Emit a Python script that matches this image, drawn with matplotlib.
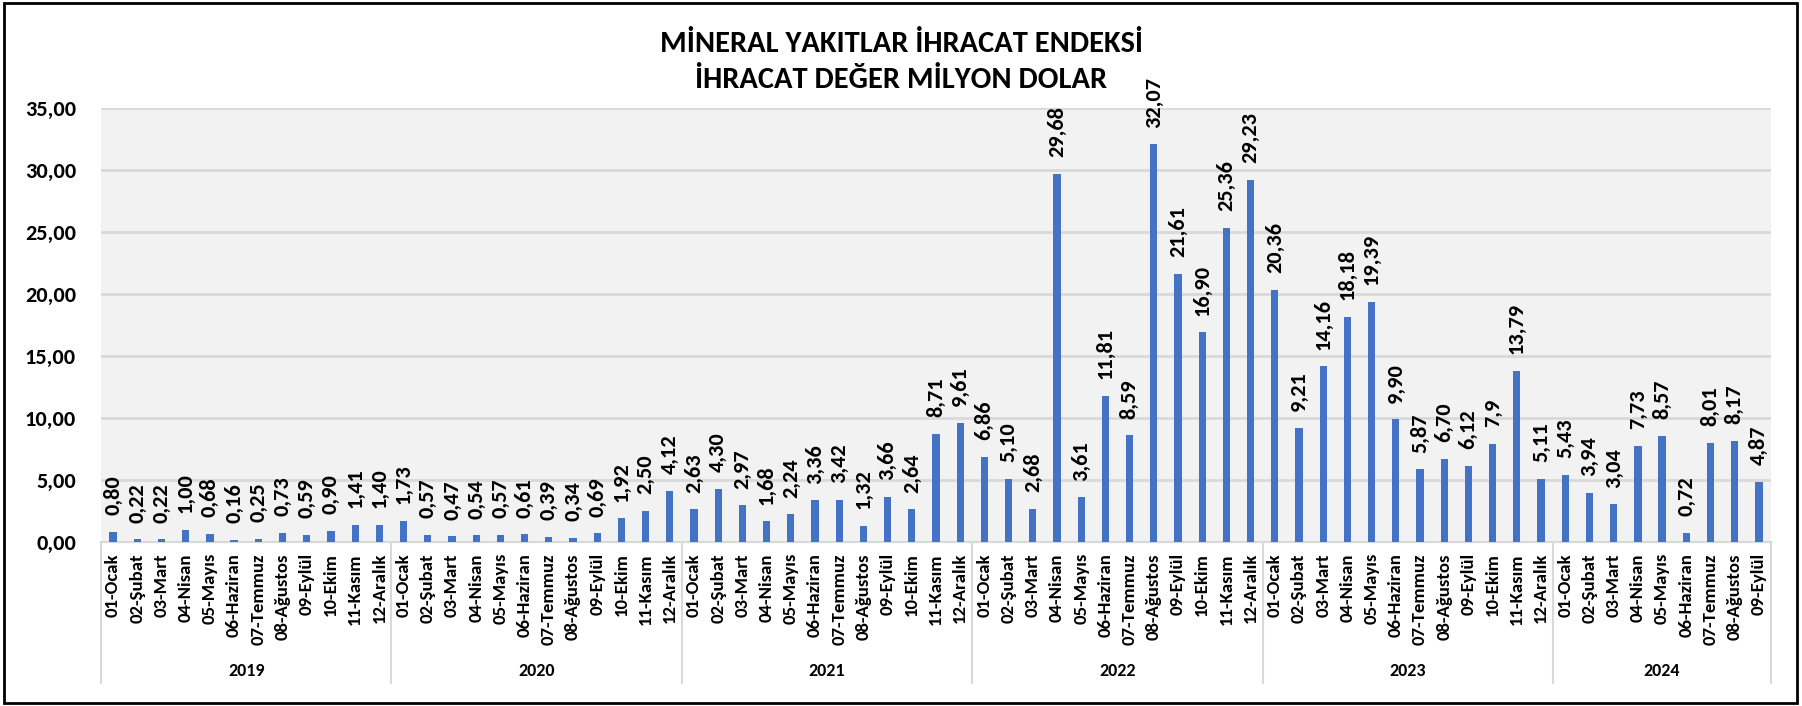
"""
Mineral yakitlar ihracat endeksi - aylik ihracat degeri (milyon dolar), 2019-2024.
"""
import matplotlib.pyplot as plt
from matplotlib.patches import Rectangle
from matplotlib.transforms import blended_transform_factory

plt.rcParams['font.family'] = ['Carlito', 'DejaVu Sans']

months = ["01-Ocak", "02-Şubat", "03-Mart", "04-Nisan", "05-Mayıs", "06-Haziran",
          "07-Temmuz", "08-Ağustos", "09-Eylül", "10-Ekim", "11-Kasım", "12-Aralık"]
years = ["2019", "2020", "2021", "2022", "2023", "2024"]

# values as printed on the data labels
v2019 = ["0,80", "0,22", "0,22", "1,00", "0,68", "0,16", "0,25", "0,73", "0,59", "0,90", "1,41", "1,40"]
v2020 = ["1,73", "0,57", "0,47", "0,54", "0,57", "0,61", "0,39", "0,34", "0,69", "1,92", "2,50", "4,12"]
v2021 = ["2,63", "4,30", "2,97", "1,68", "2,24", "3,36", "3,42", "1,32", "3,66", "2,64", "8,71", "9,61"]
v2022 = ["6,86", "5,10", "2,68", "29,68", "3,61", "11,81", "8,59", "32,07", "21,61", "16,90", "25,36", "29,23"]
v2023 = ["20,36", "9,21", "14,16", "18,18", "19,39", "9,90", "5,87", "6,70", "6,12", "7,9", "13,79", "5,11"]
v2024 = ["5,43", "3,94", "3,04", "7,73", "8,57", "0,72", "8,01", "8,17", "4,87"]

series = [v2019, v2020, v2021, v2022, v2023, v2024]

labels, values, cats = [], [], []
for s in series:
    for i, txt in enumerate(s):
        labels.append(txt)
        values.append(float(txt.replace(",", ".")))
        cats.append(months[i])

x = list(range(len(values)))

fig = plt.figure(figsize=(18.02, 7.06), dpi=100)
ax = fig.add_axes([101 / 1802, 1 - 542 / 706, 1670 / 1802, 434 / 706])
ax.set_facecolor("#F2F2F2")

ax.bar(x, values, width=0.3, color="#4472C4", zorder=3)

for xi, v, t in zip(x, values, labels):
    ax.annotate(t, (xi, v), xytext=(0, 12), textcoords="offset points",
                rotation=90, ha="center", va="bottom", fontsize=16,
                fontweight="bold", color="black")

ax.set_xlim(-0.5, len(values) - 0.5)
ax.set_ylim(0, 35)
ax.set_yticks(range(0, 36, 5))
ax.set_yticklabels([f"{t},00" for t in range(0, 36, 5)], fontsize=16, fontweight="bold")
ax.yaxis.grid(True, color="#D9D9D9", linewidth=2, zorder=0)
ax.tick_params(axis="y", length=0, pad=18)

ax.set_xticks(x)
ax.set_xticklabels(cats, rotation=90, fontsize=13.5, fontweight="bold")
ax.tick_params(axis="x", length=0, pad=8)

for side in ["left", "right", "top"]:
    ax.spines[side].set_visible(False)
ax.spines["bottom"].set_color("#D9D9D9")
ax.spines["bottom"].set_linewidth(1.5)

# year groups under the month labels
trans = blended_transform_factory(ax.transData, ax.transAxes)
bounds = [-0.5]
for s in series:
    bounds.append(bounds[-1] + len(s))
for b in bounds:
    ax.plot([b, b], [0, -0.325], transform=trans, color="#D9D9D9",
            linewidth=1.5, clip_on=False)
for yr, lo, hi in zip(years, bounds[:-1], bounds[1:]):
    ax.text((lo + hi) / 2, -0.297, yr, transform=trans, ha="center", va="center",
            fontsize=13, fontweight="bold")

fig.text(0.5, 1 - 44 / 706, "MİNERAL YAKITLAR İHRACAT ENDEKSİ", ha="center",
         va="center", fontsize=22, fontweight="bold")
fig.text(0.5, 1 - 80 / 706, "İHRACAT DEĞER MİLYON DOLAR", ha="center",
         va="center", fontsize=22, fontweight="bold")

fig.patches.append(Rectangle((4 / 1802, 3 / 706), 1793 / 1802, 700 / 706,
                             transform=fig.transFigure, fill=False,
                             edgecolor="black", linewidth=2))

fig.savefig("out.png", dpi=100)
